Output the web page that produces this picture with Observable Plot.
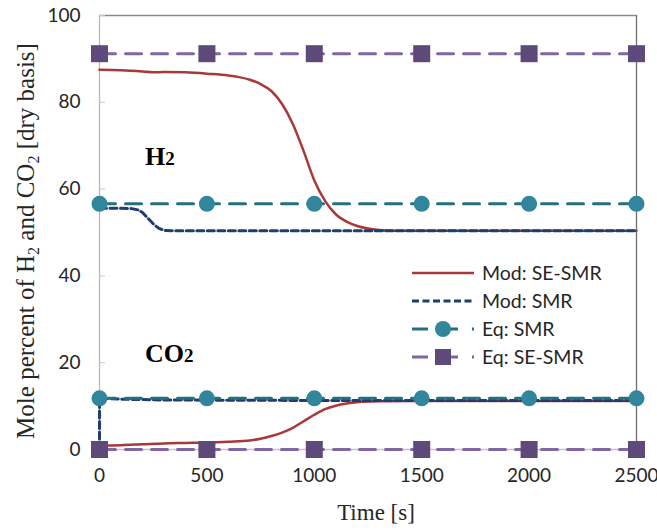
<!DOCTYPE html>
<html>
<head>
<meta charset="utf-8">
<script src="https://cdn.jsdelivr.net/npm/d3@7"></script>
<script src="https://cdn.jsdelivr.net/npm/@observablehq/plot@0.6"></script>
<style>
  html, body { margin: 0; padding: 0; background: #fff; }
  #chart { width: 657px; height: 531px; }
  #chart svg { overflow: visible; }
</style>
</head>
<body>
<div id="chart"></div>
<script>
// ---- Data ----
const xTicks = [0, 500, 1000, 1500, 2000, 2500];
const yTicks = [0, 20, 40, 60, 80, 100];

// Model: SE-SMR, H2
const tModSE_H2 = [0, 100, 200, 250, 300, 400, 500, 600, 650, 700, 750, 800, 850, 900, 950, 1000, 1050, 1100, 1150, 1200, 1250, 1300, 1400, 1600, 2000, 2500];
const vModSE_H2 = [87.5, 87.4, 87.1, 86.9, 87.0, 86.9, 86.6, 86.2, 85.8, 85.2, 84.2, 82.6, 79.6, 75.0, 68.8, 62.0, 57.3, 54.2, 52.5, 51.5, 50.9, 50.6, 50.4, 50.4, 50.4, 50.4];
// Model: SE-SMR, CO2
const tModSE_CO2 = [0, 100, 200, 300, 400, 500, 600, 700, 750, 800, 850, 900, 950, 1000, 1050, 1100, 1150, 1200, 1300, 1500, 2000, 2500];
const vModSE_CO2 = [0.9, 1.0, 1.2, 1.4, 1.5, 1.6, 1.8, 2.1, 2.5, 3.1, 3.9, 5.0, 6.5, 8.0, 9.3, 10.1, 10.6, 10.9, 11.1, 11.2, 11.2, 11.2];
// Model: SMR, H2
const tModSMR_H2 = [0, 100, 150, 180, 200, 225, 250, 275, 300, 350, 1000, 2000, 2500];
const vModSMR_H2 = [55.6, 55.6, 55.5, 55.2, 54.6, 53.3, 52.0, 51.0, 50.5, 50.4, 50.4, 50.4, 50.4];
// Model: SMR, CO2
const tModSMR_CO2 = [0, 0, 100, 300, 1000, 2000, 2500];
const vModSMR_CO2 = [0, 11.8, 11.6, 11.4, 11.3, 11.3, 11.3];
// Equilibrium values (markers every 500 s)
const tEq = [0, 500, 1000, 1500, 2000, 2500];
const eqSMR_H2 = 56.6, eqSMR_CO2 = 11.8;
const eqSESMR_H2 = 91.2, eqSESMR_CO2 = 0;

const seriesNames = ["Mod: SE-SMR", "Mod: SMR", "Eq: SMR", "Eq: SE-SMR"];

// ---- build tidy tables ----
const zip = (t, v, s, g) => t.map((x, i) => ({t: x, v: v[i], s, g}));
const modSE = [...zip(tModSE_H2, vModSE_H2, seriesNames[0], "H2"), ...zip(tModSE_CO2, vModSE_CO2, seriesNames[0], "CO2")];
const modSMR = [...zip(tModSMR_H2, vModSMR_H2, seriesNames[1], "H2"), ...zip(tModSMR_CO2, vModSMR_CO2, seriesNames[1], "CO2")];
const eqSMR = [...tEq.map(t => ({t, v: eqSMR_H2, g: "H2"})), ...tEq.map(t => ({t, v: eqSMR_CO2, g: "CO2"}))];
const eqSE = [...tEq.map(t => ({t, v: eqSESMR_H2, g: "H2"})), ...tEq.map(t => ({t, v: eqSESMR_CO2, g: "CO2"}))];

const C = {
  red: "#A9383A",
  navy: "#1F3D6E",
  tealLine: "#24707E",
  teal: "#31869B",
  purpleLine: "#8066A2",
  purple: "#5F497A"
};

const plot = Plot.plot({
  width: 657,
  height: 531,
  marginLeft: 99,
  marginRight: 21,
  marginTop: 15,
  marginBottom: 82,
  style: {fontFamily: "Lato, 'Noto Sans', sans-serif", fontSize: "19px", color: "#262626", background: "#fff", overflow: "visible"},
  x: {domain: [0, 2500]},
  y: {domain: [0, 100]},
  marks: [
    Plot.ruleY([100], {stroke: "#8a8a8a", strokeWidth: 1.3}),
    Plot.ruleX([2500], {stroke: "#6e6e6e", strokeWidth: 1.3}),
    Plot.ruleX([0], {stroke: "#b8b8b8", strokeWidth: 1.3}),
    Plot.ruleY([0], {stroke: "#c4c4c4", strokeWidth: 1.3}),
    Plot.axisY({ticks: yTicks, tickSize: -6, tickPadding: 25, stroke: "#c8c8c8", label: null, fill: "#262626", tickFormat: d => String(d)}),
    Plot.axisX({ticks: xTicks, tickSize: 0, tickPadding: 19, label: null, fill: "#262626", tickFormat: d => String(d)}),
    Plot.line(modSE, {x: "t", y: "v", z: "g", stroke: C.red, strokeWidth: 2.5, curve: "monotone-x"}),
    Plot.line(modSMR, {x: "t", y: "v", z: "g", stroke: C.navy, strokeWidth: 3, strokeDasharray: "7,3.5", curve: "linear"}),
    Plot.line(eqSMR, {x: "t", y: "v", z: "g", stroke: C.tealLine, strokeWidth: 3, strokeDasharray: "16,10"}),
    Plot.dot(eqSMR, {x: "t", y: "v", r: 8, fill: C.teal, stroke: "none"}),
    Plot.line(eqSE, {x: "t", y: "v", z: "g", stroke: C.purpleLine, strokeWidth: 3, strokeDasharray: "16,10"}),
    Plot.dot(eqSE, {x: "t", y: "v", r: 9.6, symbol: "square", fill: C.purple, stroke: "none"})
  ]
});

document.getElementById("chart").appendChild(plot);

// ---- text annotations and titles ----
const svg = d3.select(plot);
const sx = plot.scale("x"), sy = plot.scale("y");
const serif = "'Liberation Serif', 'Times New Roman', serif";

// species labels
const species = [
  {t: 214, v: 65.4, base: "H", sub: "2"},
  {t: 214, v: 20.0, base: "CO", sub: "2"}
];
species.forEach(d => {
  const tx = svg.append("text")
    .attr("x", sx.apply(d.t)).attr("y", sy.apply(d.v))
    .attr("text-anchor", "start")
    .attr("font-family", serif).attr("font-weight", "bold")
    .attr("font-size", 26).attr("fill", "#000");
  tx.append("tspan").text(d.base);
  tx.append("tspan").attr("font-size", 19).text(d.sub);
});

// y title
const yt = svg.append("text")
  .attr("transform", "translate(34,241) rotate(-90)")
  .attr("text-anchor", "middle")
  .attr("font-family", serif).attr("font-size", 25).attr("fill", "#262626");
yt.append("tspan").text("Mole percent of H");
yt.append("tspan").attr("font-size", 16).attr("dy", 5).text("2");
yt.append("tspan").attr("dy", -5).text(" and CO");
yt.append("tspan").attr("font-size", 16).attr("dy", 5).text("2");
yt.append("tspan").attr("dy", -5).text(" [dry basis]");

// x title
svg.append("text")
  .attr("x", 376).attr("y", 520)
  .attr("text-anchor", "middle")
  .attr("font-family", serif).attr("font-size", 23).attr("fill", "#262626")
  .text("Time [s]");

// legend
const legend = [
  {name: seriesNames[0], stroke: C.red, dash: null, width: 2.5, marker: null},
  {name: seriesNames[1], stroke: C.navy, dash: "7,3.5", width: 3, marker: null},
  {name: seriesNames[2], stroke: C.tealLine, dash: "16,14", width: 3, marker: "circle", mfill: C.teal},
  {name: seriesNames[3], stroke: C.purpleLine, dash: "16,14", width: 3, marker: "square", mfill: C.purple}
];
const lg = svg.append("g").attr("transform", "translate(412,273)");
legend.forEach((d, i) => {
  const g = lg.append("g").attr("transform", `translate(0,${i * 28})`);
  g.append("line").attr("x1", 0).attr("x2", 62).attr("y1", 0).attr("y2", 0)
    .attr("stroke", d.stroke).attr("stroke-width", d.width)
    .attr("stroke-dasharray", d.dash);
  if (d.marker === "circle") g.append("circle").attr("cx", 31).attr("cy", 0).attr("r", 8).attr("fill", d.mfill);
  if (d.marker === "square") g.append("rect").attr("x", 23).attr("y", -8).attr("width", 16).attr("height", 16).attr("fill", d.mfill);
  g.append("text").attr("x", 70).attr("y", 0).attr("dy", "0.35em")
    .attr("text-anchor", "start")
    .attr("font-family", "Lato, 'Noto Sans', sans-serif").attr("font-size", 19.5).attr("fill", "#262626")
    .text(d.name);
});
</script>
</body>
</html>
